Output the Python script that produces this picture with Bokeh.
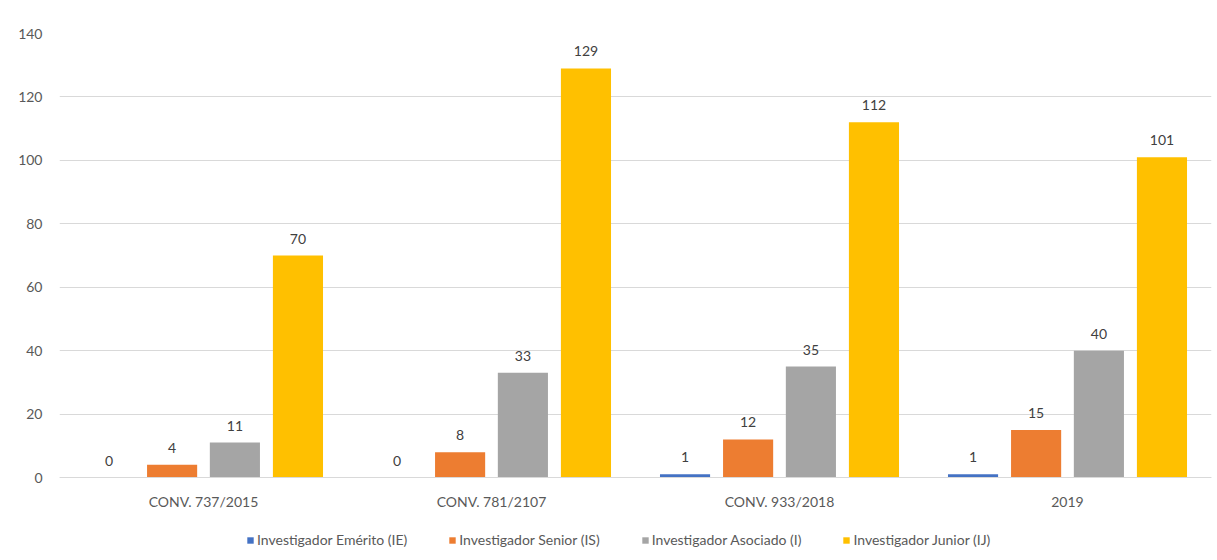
from bokeh.plotting import figure
from bokeh.models import FactorRange, Range1d, Legend, LegendItem, ColumnDataSource, FixedTicker
from bokeh.transform import dodge
from bokeh.core.properties import value
from bokeh.embed import file_html
from bokeh.resources import INLINE

categories = ["CONV. 737/2015", "CONV. 781/2107", "CONV. 933/2018", "2019"]
series_names = ["Investigador Emérito (IE)", "Investigador Senior (IS)",
                "Investigador Asociado (I)", "Investigador Junior (IJ)"]
emerito = [0, 0, 1, 1]
senior = [4, 8, 12, 15]
asociado = [11, 33, 35, 40]
junior = [70, 129, 112, 101]
y_ticks = [0, 20, 40, 60, 80, 100, 120, 140]

colors = ["#4472C4", "#ED7D31", "#A5A5A5", "#FFC000"]
keys = ["ie", "is", "ia", "ij"]
series = [emerito, senior, asociado, junior]
offsets = [-0.328, -0.109, 0.109, 0.328]

data = {"cat": categories}
for k, s in zip(keys, series):
    data[k] = s
    data[k + "_lbl"] = [str(v) for v in s]
src = ColumnDataSource(data)

FONT = "Lato"
FRAME_H = 525
Y_MIN = -140 * (FRAME_H - 444) / 444

p = figure(x_range=FactorRange(*categories), y_range=Range1d(Y_MIN, 140),
           frame_width=1152, frame_height=FRAME_H,
           output_backend="svg", toolbar_location=None,
           min_border_left=59, min_border_right=4, min_border_top=33,
           min_border_bottom=0)
p.outline_line_color = None

items = []
for k, c, off, name in zip(keys, colors, offsets, series_names):
    r = p.vbar(x=dodge("cat", off, range=p.x_range), top=k, bottom=0, width=0.174,
               source=src, fill_color=c, line_color=None)
    p.text(x=dodge("cat", off, range=p.x_range), y=k, text=k + "_lbl", source=src,
           text_align="center", text_baseline="bottom", y_offset=-12,
           text_font=value(FONT), text_font_size="14px", text_color="#404040")
    items.append(LegendItem(label=name, renderers=[r]))

legend = Legend(items=items, orientation="horizontal", location=(187, 10),
                border_line_color=None, background_fill_alpha=0,
                glyph_width=8, glyph_height=8, label_standoff=3, spacing=41,
                label_text_font=FONT, label_text_font_size="14px",
                label_text_color="#595959", margin=0, padding=5)
p.add_layout(legend, "center")

p.xgrid.grid_line_color = None
p.ygrid.grid_line_color = "#d9d9d9"
p.yaxis.ticker = FixedTicker(ticks=y_ticks)
p.yaxis.axis_line_color = None
p.yaxis.major_tick_line_color = None
p.yaxis.minor_tick_line_color = None
p.yaxis.major_label_standoff = 11
p.yaxis.major_label_text_font = FONT
p.yaxis.major_label_text_font_size = "14px"
p.yaxis.major_label_text_color = "#595959"

p.xaxis.fixed_location = 0
p.xaxis.axis_line_color = "#d9d9d9"
p.xaxis.major_tick_line_color = None
p.xaxis.minor_tick_line_color = None
p.xaxis.major_label_standoff = 9
p.xaxis.major_label_text_font = FONT
p.xaxis.major_label_text_font_size = "14px"
p.xaxis.major_label_text_color = "#595959"

open("out.html", "w").write(file_html(p, INLINE))
